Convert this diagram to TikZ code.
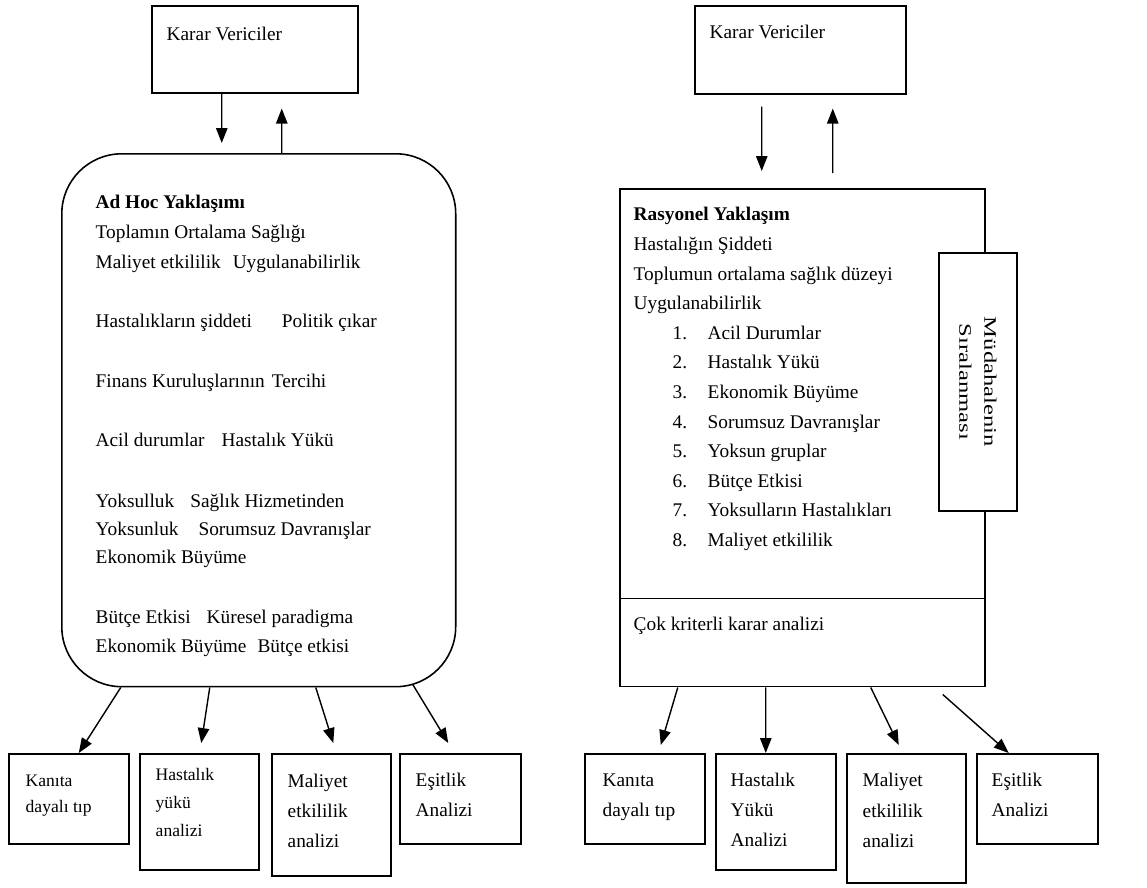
\documentclass[tikz,border=0pt]{standalone}
\usepackage{fontspec}
\setmainfont{Liberation Serif}
\usetikzlibrary{arrows.meta,calc}
\tikzset{kutu/.style={draw,line width=0.9pt,inner sep=0pt,anchor=north west},
  yazi/.style={anchor=base west,inner sep=0pt,font=\fontsize{11}{13}\selectfont},
  kucuk/.style={anchor=base west,inner sep=0pt,font=\fontsize{10}{12}\selectfont}}

\begin{document}
\begin{tikzpicture}[x=0.02cm,y=-0.02cm,>={Triangle[width=6.5pt,length=8.5pt]},line width=0.8pt]
        \useasboundingbox (0,0) rectangle (1147,887);

        \node[kutu,minimum width=4.12cm,minimum height=1.74cm] (kv1) at (151,5) {};
        \node[kutu,minimum width=4.22cm,minimum height=1.76cm] (kv2) at (694,5) {};
        \node[yazi] (kv1yazi) at (166,40) {Karar Vericiler};
        \node[yazi] (kv2yazi) at (709,38) {Karar Vericiler};

        \node[kutu,rounded corners=1.2cm,minimum width=7.88cm,minimum height=10.66cm] (adhoc) at (61,153) {};
        \node[kutu,minimum width=7.30cm,minimum height=9.96cm] (ras) at (619,188) {};
        \draw[line width=0.9pt] ($(ras.south west)+(0,-89)$) -- ($(ras.south east)+(0,-89)$);
        \node[kutu,fill=white,minimum width=1.56cm,minimum height=5.16cm] (mud) at (938,252) {};
        \node[rotate=-90,align=center,inner sep=0pt,font=\fontsize{10}{14.2}\selectfont] (mudyazi) at (mud.center)
            {\scalebox{1.4}[1]{Müdahalenin}\\\scalebox{1.4}[1]{Sıralanması}};

        \foreach \y/\t [count=\i] in {208/{\textbf{Ad Hoc Yaklaşımı}}, 238/{Toplamın Ortalama Sağlığı},
            268/{Maliyet etkililik\hspace{0.24cm}Uygulanabilirlik}, 327/{Hastalıkların şiddeti\hspace{0.6cm}Politik çıkar},
            387/{Finans Kuruluşlarının\hspace{0.14cm}Tercihi}, 446/{Acil durumlar\hspace{0.34cm}Hastalık Yükü},
            507/{Yoksulluk\hspace{0.32cm}Sağlık Hizmetinden}, 535/{Yoksunluk\hspace{0.4cm}Sorumsuz Davranışlar},
            563/{Ekonomik Büyüme}, 623/{Bütçe Etkisi\hspace{0.32cm}Küresel paradigma},
            652/{Ekonomik Büyüme\hspace{0.22cm}Bütçe etkisi}}
            \node[yazi] (ah\i) at (95,\y) {\t};

        \foreach \y/\t [count=\i] in {220/{\textbf{Rasyonel Yaklaşım}}, 250/{Hastalığın Şiddeti},
            280/{Toplumun ortalama sağlık düzeyi}, 309/{Uygulanabilirlik}, 630/{Çok kriterli karar analizi}}
            \node[yazi] (ry\i) at (633,\y) {\t};

        \foreach \y/\t [count=\i] in {339/{Acil Durumlar}, 368/{Hastalık Yükü}, 398/{Ekonomik Büyüme},
            428/{Sorumsuz Davranışlar}, 457/{Yoksun gruplar}, 487/{Bütçe Etkisi},
            516/{Yoksulların Hastalıkları}, 546/{Maliyet etkililik}}
            {\node[yazi] (no\i) at (672,\y) {\i.};
             \node[yazi] (li\i) at (707,\y) {\t};}

        \node[kutu,minimum width=2.40cm,minimum height=1.80cm] (lk1) at (8,753) {};
        \node[kutu,minimum width=2.38cm,minimum height=2.32cm] (lk2) at (139,753) {};
        \node[kutu,minimum width=2.38cm,minimum height=2.44cm] (lk3) at (271,753) {};
        \node[kutu,minimum width=2.42cm,minimum height=1.80cm] (lk4) at (399,753) {};
        \node[kutu,minimum width=2.40cm,minimum height=1.80cm] (rk1) at (584,753) {};
        \node[kutu,minimum width=2.40cm,minimum height=2.32cm] (rk2) at (715,753) {};
        \node[kutu,minimum width=2.38cm,minimum height=2.58cm] (rk3) at (846,753) {};
        \node[kutu,minimum width=2.42cm,minimum height=1.80cm] (rk4) at (976,753) {};

        \foreach \x/\y/\t [count=\i] in {25/786/Kanıta, 25/812/dayalı tıp, 155/780/Hastalık, 155/808/yükü, 155/836/analizi}
            \node[kucuk] (ka\i) at (\x,\y) {\t};
        \foreach \x/\y/\t [count=\i] in {287/787/Maliyet, 287/817/etkililik, 287/847/analizi, 415/786/Eşitlik, 415/816/Analizi,
            602/786/Kanıta, 602/816/dayalı tıp, 730/786/Hastalık, 730/816/Yükü, 730/846/Analizi,
            862/786/Maliyet, 862/817/etkililik, 862/847/analizi, 991/786/Eşitlik, 991/816/Analizi}
            \node[yazi] (al\i) at (\x,\y) {\t};

        \draw [->] ($(kv1.south)+(-33,0)$) -- ($(adhoc.north)+(-37,-10)$);
        \draw [->] ($(adhoc.north)+(23,0)$) -- ($(kv1.south)+(27,15)$);
        \draw [->] ($(kv2.south)+(-38.5,12)$) -- ($(ras.north)+(-40.5,-17)$);
        \draw [->] ($(ras.north)+(30.5,-15)$) -- ($(kv2.south)+(32.5,14)$);

        \draw [->] ($(adhoc.south)+(-138,0)$) -- ($(lk1.north)+(10,0)$);
        \draw [->] ($(adhoc.south)+(-49,0)$) -- ($(lk2.north)+(2,-10)$);
        \draw [->] ($(adhoc.south)+(57,0)$) -- ($(lk3.north)+(2,-10)$);
        \draw [->] ($(adhoc.south)+(154,-3)$) -- ($(lk4.north)+(-12,-10)$);
        \draw [->] ($(ras.south)+(-124.5,0)$) -- ($(rk1.north)+(16,-8)$);
        \draw [->] ($(ras.south)+(-36.5,0)$) -- ($(rk2.north)+(-10,0)$);
        \draw [->] ($(ras.south)+(68.5,0)$) -- ($(rk3.north)+(-7.5,-8)$);
        \draw [->] ($(ras.south)+(140.5,7)$) -- ($(rk4.north)+(-28.5,0)$);
    \end{tikzpicture}
\end{document}
